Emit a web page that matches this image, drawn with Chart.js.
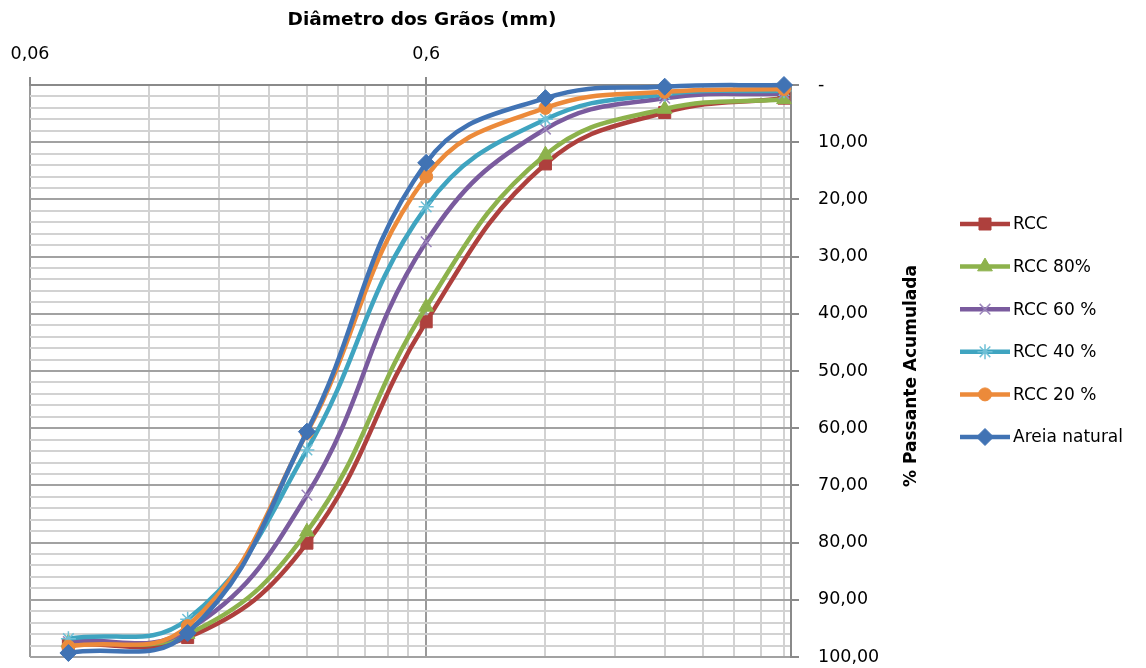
<!DOCTYPE html>
<html>
<head>
<meta charset="utf-8">
<script src="https://cdn.jsdelivr.net/npm/chart.js@4.4.1/dist/chart.umd.min.js"></script>
<style>
html,body{margin:0;padding:0;background:#fff;}
#wrap{width:1146px;height:668px;}
</style>
</head>
<body>
<div id="wrap"><canvas id="c" width="1146" height="668"></canvas></div>
<script>
// Sieve sizes (mm)
const sizes = [0.075, 0.15, 0.3, 0.6, 1.2, 2.4, 4.8];
// % passante acumulada per series
const rcc    = [97.8, 96.6, 80.1, 41.4, 13.8, 4.8, 2.3];
const rcc80  = [97.5, 96.0, 78.1, 38.8, 12.2, 4.2, 2.5];
const rcc60  = [97.3, 95.3, 71.7, 27.4, 7.7, 2.3, 1.5];
const rcc40  = [96.8, 93.4, 63.8, 21.3, 6.0, 1.6, 1.0];
const rcc20  = [98.2, 94.6, 60.8, 16.0, 4.0, 1.2, 0.7];
const areia  = [99.3, 95.8, 60.6, 13.6, 2.3, 0.3, 0.0];
const seriesNames = ['RCC', 'RCC 80%', 'RCC 60 %', 'RCC 40 %', 'RCC 20 %', 'Areia natural'];
const xTickValues = [0.06,0.12,0.18,0.24,0.3,0.36,0.42,0.48,0.54,0.6,1.2,1.8,2.4,3.0,3.6,4.2,4.8];
const xLabeled = [0.06, 0.6];
const xTitle = 'Diâmetro dos Grãos (mm)';
const yTitle = '% Passante Acumulada';

const colors = ['#AE403D', '#8DB24C', '#7A5B9E', '#3FA4C0', '#EC8A3A', '#4173B4'];
const styles = [
  {ps:'rect', r:8.5, bw:1},
  {ps:'triangle', r:8.5, bw:1},
  {ps:'crossRot', r:7.5, bw:1.5},
  {ps:'star', r:7.5, bw:1.5},
  {ps:'circle', r:6.5, bw:1},
  {ps:'rectRot', r:8.5, bw:1}
];
const allSeries = [rcc, rcc80, rcc60, rcc40, rcc20, areia];

const datasets = allSeries.map((vals, i) => ({
  label: seriesNames[i],
  data: vals.map((v, j) => ({x: sizes[j], y: v})),
  borderColor: colors[i],
  backgroundColor: colors[i],
  pointBackgroundColor: colors[i],
  pointBorderColor: (styles[i].ps==='crossRot') ? '#9C86BC' : (styles[i].ps==='star' ? '#6FC0D6' : colors[i]),
  pointStyle: styles[i].ps,
  pointRadius: styles[i].r,
  pointHoverRadius: styles[i].r,
  pointBorderWidth: styles[i].bw,
  borderWidth: 4.5,
  tension: 0.42,
  capBezierPoints: false,
  fill: false,
  clip: false,
  order: 6 - i
}));

const FONT = 'DejaVu Sans';
const fmt = v => v.toFixed(2).replace('.', ',');

const customDraw = {
  id: 'customDraw',
  afterDraw(chart) {
    const ctx = chart.ctx;
    ctx.save();
    // x title
    ctx.fillStyle = '#000';
    ctx.font = 'bold 18.5px "' + FONT + '"';
    ctx.textAlign = 'center';
    ctx.textBaseline = 'middle';
    ctx.fillText(xTitle, 422, 20);
    // y title rotated
    ctx.font = 'bold 17px "' + FONT + '"';
    ctx.save();
    ctx.translate(912, 376);
    ctx.rotate(-Math.PI/2);
    ctx.fillText(yTitle, 0, 0);
    ctx.restore();
    // legend
    const lx = 960, lw = 50, ty0 = 224, dy = 42.6;
    ctx.font = '17px "' + FONT + '"';
    ctx.textAlign = 'left';
    chart.data.datasets.forEach((ds, i) => {
      const y = ty0 + i*dy;
      ctx.strokeStyle = ds.borderColor;
      ctx.lineWidth = 4.5;
      ctx.lineCap = 'butt';
      ctx.beginPath();
      ctx.moveTo(lx, y);
      ctx.lineTo(lx + lw, y);
      ctx.stroke();
      ctx.fillStyle = ds.pointBackgroundColor;
      ctx.strokeStyle = ds.pointBorderColor;
      ctx.lineWidth = ds.pointBorderWidth;
      Chart.helpers.drawPoint(ctx, {pointStyle: ds.pointStyle, radius: ds.pointRadius, rotation: 0, borderWidth: ds.pointBorderWidth}, lx + lw/2, y);
      ctx.fillStyle = '#000';
      ctx.fillText(ds.label, lx + lw + 3, y + 1);
    });
    ctx.restore();
  }
};

new Chart(document.getElementById('c'), {
  type: 'line',
  data: {datasets},
  options: {
    responsive: false,
    animation: false,
    layout: {padding: {left: 30, right: 235, top: 0, bottom: 11}},
    plugins: {legend: {display: false}, tooltip: {enabled: false}},
    scales: {
      x: {
        type: 'logarithmic',
        position: 'top',
        min: 0.06,
        max: 5,
        afterBuildTicks(scale) {
          scale.ticks = xTickValues.map(v => ({value: v}));
        },
        afterFit(scale) { scale.height = 85; scale.paddingLeft = 0; scale.paddingRight = 0; },
        ticks: {
          autoSkip: false,
          maxRotation: 0,
          padding: 12,
          color: '#000',
          font: {family: FONT, size: 17.5},
          callback: (v) => xLabeled.some(t => Math.abs(t - v) < 1e-9) ? String(v).replace('.', ',') : ''
        },
        grid: {
          drawOnChartArea: true,
          tickLength: 8,
          lineWidth: 2,
          color: (c) => (c.tick && (Math.abs(c.tick.value - 0.6) < 1e-9 || Math.abs(c.tick.value - 0.06) < 1e-9)) ? '#9a9a9a' : '#d2d2d2',
          tickColor: (c) => (c.tick && (Math.abs(c.tick.value - 0.6) < 1e-9 || Math.abs(c.tick.value - 0.06) < 1e-9)) ? '#8a8a8a' : 'rgba(0,0,0,0)'
        },
        border: {display: true, color: '#8a8a8a', width: 2}
      },
      y: {
        type: 'linear',
        position: 'right',
        reverse: true,
        min: 0,
        max: 100,
        afterFit(scale) { scale.width = 120; scale.paddingTop = 0; scale.paddingBottom = 0; },
        ticks: {
          stepSize: 2,
          autoSkip: false,
          padding: 19,
          color: '#000',
          font: {family: FONT, size: 17.5},
          callback: (v) => (Math.round(v) % 10 === 0) ? (v === 0 ? '-' : fmt(v)) : ''
        },
        grid: {
          lineWidth: 2,
          tickLength: 8,
          color: (c) => (c.tick && Math.round(c.tick.value) % 10 === 0) ? '#a2a2a2' : '#d2d2d2',
          tickColor: (c) => (c.tick && Math.round(c.tick.value) % 10 === 0) ? '#8a8a8a' : 'rgba(0,0,0,0)'
        },
        border: {display: true, color: '#8a8a8a', width: 2}
      }
    }
  },
  plugins: [customDraw]
});
</script>
</body>
</html>
